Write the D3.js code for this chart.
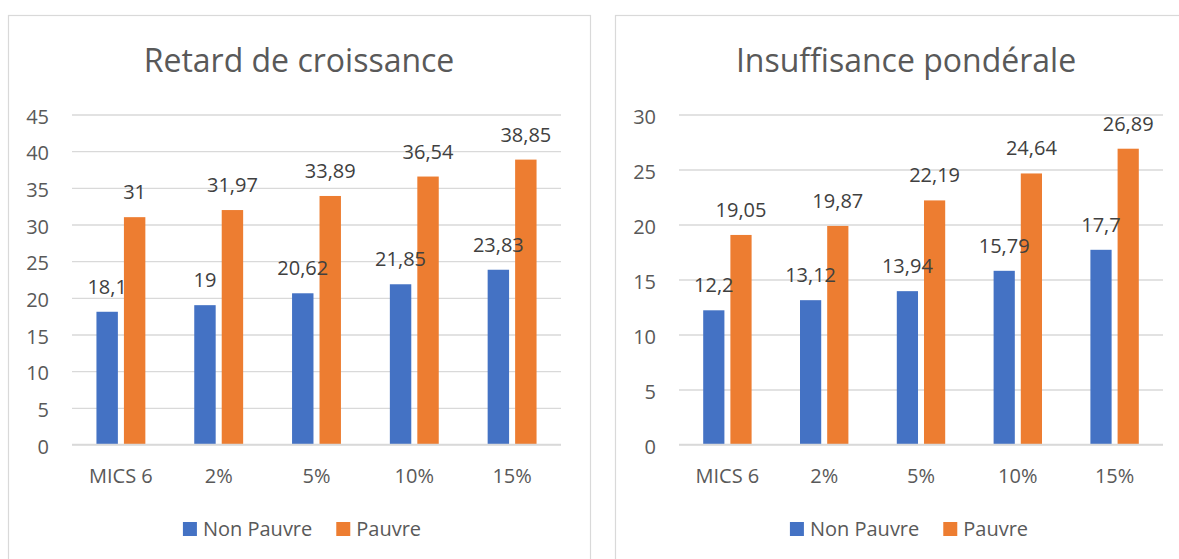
<!DOCTYPE html>
<html>
	<head>
		<meta charset="utf-8" />
		<title>Retard de croissance / Insuffisance pondérale</title>
		<style>
			body { margin: 0; background: #fff; }
			svg text { font-family: "Open Sans", sans-serif; fill: #595959; }
			svg text.lbl { fill: #404040; }
		</style>
	</head>
	<body>
		<div id="graph"></div>
		<script src="https://cdnjs.cloudflare.com/ajax/libs/d3/7.8.5/d3.min.js"></script>
		<script>
			// data
			var categories = ["MICS 6", "2%", "5%", "10%", "15%"];
			var seriesNames = ["Non Pauvre", "Pauvre"];
			var colors = ["#4472C4", "#ED7D31"];

			var retardTitle = "Retard de croissance";
			var retardNonPauvre = [18.1, 19, 20.62, 21.85, 23.83];
			var retardPauvre = [31, 31.97, 33.89, 36.54, 38.85];
			var retardTicks = [0, 5, 10, 15, 20, 25, 30, 35, 40, 45];

			var insufTitle = "Insuffisance pondérale";
			var insufNonPauvre = [12.2, 13.12, 13.94, 15.79, 17.7];
			var insufPauvre = [19.05, 19.87, 22.19, 24.64, 26.89];
			var insufTicks = [0, 5, 10, 15, 20, 25, 30];

			var width = 1179, height = 559;
			var svg = d3.select("#graph").append("svg")
				.attr("width", width)
				.attr("height", height);

			drawChart({ left: 8, width: 582, plotLeft: 72, plotRight: 561, title: retardTitle,
				values: [retardNonPauvre, retardPauvre], ticks: retardTicks });
			drawChart({ left: 615, width: 582, plotLeft: 679, plotRight: 1163, title: insufTitle,
				values: [insufNonPauvre, insufPauvre], ticks: insufTicks });

			function fmt(v) { return String(v).replace(".", ","); }

			function drawChart(c) {
				var top = 114.5, bottom = 444.5;
				var g = svg.append("g");

				g.append("rect")
					.attr("x", c.left + 0.5).attr("y", 15.5)
					.attr("width", c.width).attr("height", 600)
					.attr("fill", "#fff").attr("stroke", "#D9D9D9").attr("stroke-width", 1.2);

				g.append("text")
					.attr("x", c.left + c.width / 2).attr("y", 72)
					.attr("text-anchor", "middle")
					.style("font-size", "32px")
					.text(c.title);

				var y = d3.scaleLinear()
					.domain([0, d3.max(c.ticks)])
					.range([bottom, top]);

				var x = d3.scaleBand()
					.domain(categories)
					.range([c.plotLeft, c.plotRight])
					.paddingInner(0.5).paddingOuter(0.25);

				var xs = d3.scaleBand()
					.domain(seriesNames)
					.range([0, x.bandwidth()])
					.paddingInner(0.22);

				// gridlines + y labels
				var yAxis = g.append("g")
					.attr("transform", "translate(" + c.plotLeft + ",0)")
					.call(d3.axisLeft(y).tickValues(c.ticks)
						.tickSize(-(c.plotRight - c.plotLeft)).tickPadding(23));
				yAxis.select(".domain").remove();
				yAxis.selectAll(".tick line").attr("stroke", "#D9D9D9").attr("stroke-width", 1.3);
				yAxis.selectAll(".tick text")
					.attr("dy", "0.44em")
					.style("font-size", "20px")
					.attr("fill", null);
				yAxis.attr("font-family", null).attr("font-size", null);

				// bars
				var bars = g.append("g"), labels = g.append("g");
				seriesNames.forEach(function(s, si) {
					var vals = c.values[si];
					bars.selectAll("rect.s" + si)
						.data(vals)
						.enter().append("rect")
						.attr("class", "s" + si)
						.attr("x", function(d, i) { return x(categories[i]) + xs(s); })
						.attr("y", function(d) { return y(d); })
						.attr("width", xs.bandwidth())
						.attr("height", function(d) { return bottom - y(d); })
						.attr("fill", colors[si]);
					labels.selectAll("text.s" + si)
						.data(vals)
						.enter().append("text")
						.attr("class", "lbl s" + si)
						.attr("x", function(d, i) { return x(categories[i]) + xs(s) + xs.bandwidth() / 2; })
						.attr("y", function(d) { return y(d) - 18; })
						.attr("text-anchor", "middle")
						.style("font-size", "20px")
						.text(fmt);
				});

				// x labels
				var xAxis = g.append("g")
					.attr("transform", "translate(0," + bottom + ")")
					.call(d3.axisBottom(x).tickSize(0).tickPadding(0));
				xAxis.select(".domain")
					.attr("stroke", "#D9D9D9").attr("stroke-width", 1.3)
					.attr("d", "M" + c.plotLeft + ",0H" + c.plotRight);
				xAxis.attr("font-family", null).attr("font-size", null);
				xAxis.selectAll(".tick text")
					.attr("y", 38.5).attr("dy", null)
					.attr("fill", null)
					.style("font-size", "20px");

				// legend
				var lg = g.append("g");
				var items = lg.selectAll("g").data(seriesNames).enter().append("g");
				items.append("rect")
					.attr("width", 14).attr("height", 14)
					.attr("y", 522)
					.attr("fill", function(d, i) { return colors[i]; });
				items.append("text")
					.attr("x", 20).attr("y", 536)
					.style("font-size", "20px")
					.text(function(d) { return d; });
				var pos = 0;
				items.each(function() {
					var w = d3.select(this).select("text").node().getComputedTextLength();
					d3.select(this).attr("transform", "translate(" + pos + ",0)");
					pos += 20 + w + 24;
				});
				var total = pos - 24;
				lg.attr("transform", "translate(" + (c.left + c.width / 2 + 3 - total / 2) + ",0)");
			}
		</script>
	</body>
</html>
